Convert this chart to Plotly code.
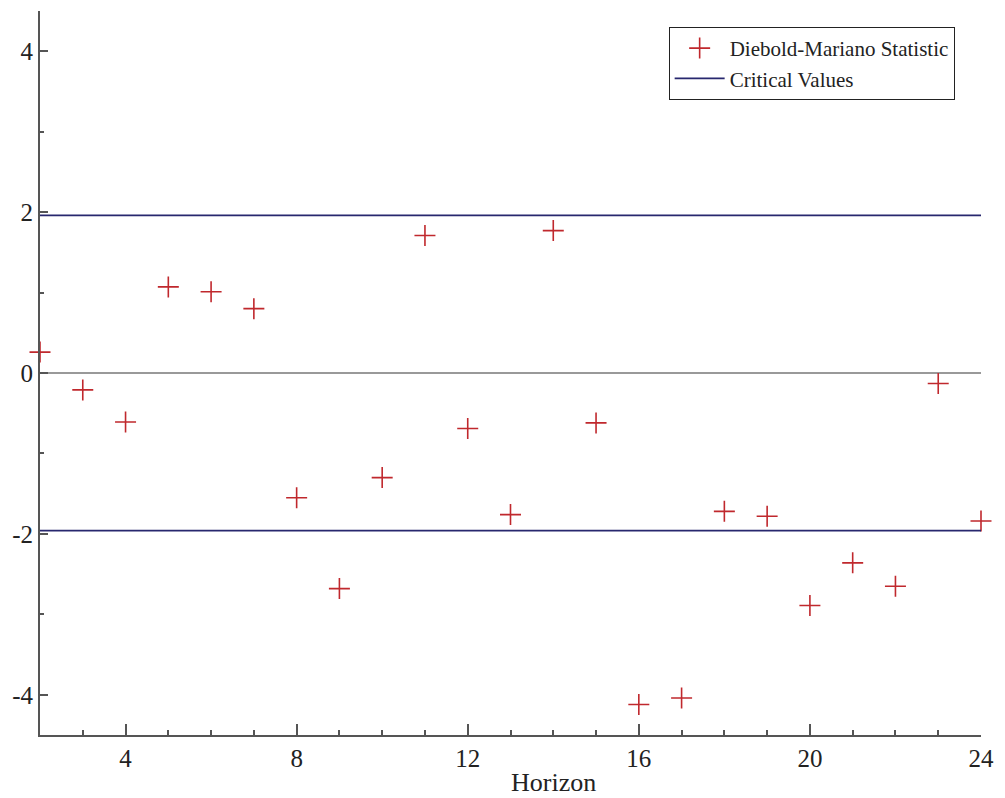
import plotly.graph_objects as go

# Data
horizon = list(range(2, 25))
dm_stat = [0.26, -0.21, -0.61, 1.07, 1.01, 0.80, -1.55, -2.68, -1.30, 1.71,
           -0.69, -1.76, 1.77, -0.62, -4.12, -4.04, -1.72, -1.78, -2.89, -2.36,
           -2.65, -0.13, -1.84]
critical_value = 1.96
x_range = [2, 24]
y_range = [-4.5, 4.5]
x_tickvals = [4, 8, 12, 16, 20, 24]
x_ticktext = ["4", "8", "12", "16", "20", "24"]
y_tickvals = [-4, -2, 0, 2, 4]
y_ticktext = ["-4", "-2", "0", "2", "4"]

FONT = "Liberation Serif, Times New Roman, serif"
AXIS_COLOR = "#555555"

fig = go.Figure()
fig.add_trace(go.Scatter(
    x=horizon, y=dm_stat, mode="markers", name="Diebold-Mariano Statistic",
    marker=dict(symbol="cross-thin", size=15, line=dict(width=1.6, color="#c0282d"),
                color="#c0282d"),
    cliponaxis=False,
))
fig.add_trace(go.Scatter(
    x=[x_range[0], x_range[1], None, x_range[0], x_range[1]],
    y=[critical_value, critical_value, None, -critical_value, -critical_value],
    mode="lines", name="Critical Values",
    line=dict(color="#27276e", width=1.8),
))

fig.update_layout(
    width=1005, height=798,
    margin=dict(l=40, r=20, t=11, b=63),
    plot_bgcolor="white", paper_bgcolor="white",
    font=dict(family=FONT, color="#222222"),
    showlegend=True,
    legend=dict(
        x=0.972, y=0.978, xanchor="right", yanchor="top",
        bordercolor="#222222", borderwidth=1, bgcolor="white",
        font=dict(family=FONT, size=21, color="#222222"),
        tracegroupgap=0, itemwidth=50,
    ),
    annotations=[dict(
        x=14, y=0, xref="x", yref="paper", text="Horizon", showarrow=False,
        yanchor="middle", yshift=-47, font=dict(family=FONT, size=26, color="#222222"),
    )],
)

fig.update_xaxes(
    range=x_range, showgrid=False, zeroline=False,
    showline=True, linecolor=AXIS_COLOR, linewidth=2,
    tickmode="array", tickvals=x_tickvals, ticktext=x_ticktext,
    ticks="inside", ticklen=11, tickwidth=1.5, tickcolor=AXIS_COLOR,
    tickfont=dict(family=FONT, size=25, color="#222222"),
    minor=dict(dtick=1, tick0=0, ticks="inside", ticklen=5, tickwidth=1.5,
               tickcolor=AXIS_COLOR, showgrid=False),
)
fig.update_yaxes(
    range=y_range, showgrid=False,
    zeroline=True, zerolinecolor="#999999", zerolinewidth=1.5,
    showline=True, linecolor=AXIS_COLOR, linewidth=2,
    tickmode="array", tickvals=y_tickvals, ticktext=y_ticktext,
    ticks="inside", ticklen=8, tickwidth=1.5, tickcolor=AXIS_COLOR,
    tickfont=dict(family=FONT, size=25, color="#222222"),
    minor=dict(dtick=1, tick0=0, ticks="inside", ticklen=4, tickwidth=1.5,
               tickcolor=AXIS_COLOR, showgrid=False),
)

fig.write_html(
    "out.html",
    config={"displayModeBar": False},
    post_script="document.body.style.margin='0';document.body.style.overflow='hidden';",
)
